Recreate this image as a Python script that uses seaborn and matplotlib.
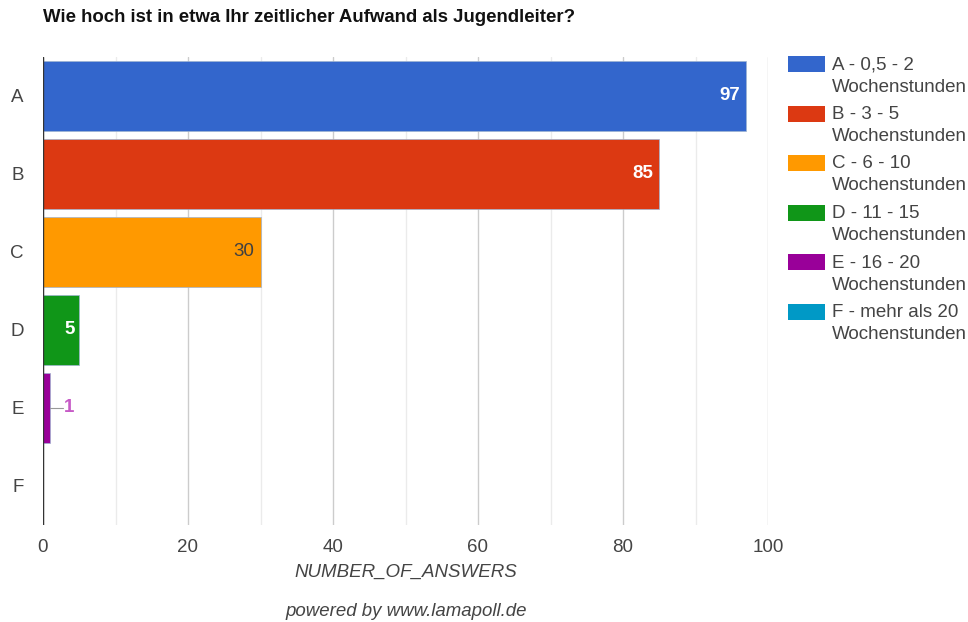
import matplotlib
matplotlib.use("Agg")
import matplotlib.pyplot as plt
from matplotlib.patches import Rectangle
from matplotlib.ticker import MultipleLocator
import seaborn as sns
import pandas as pd

# Survey data
categories = ["A", "B", "C", "D", "E", "F"]
answers = [97, 85, 30, 5, 1, 0]
legend_labels = [
    "A - 0,5 - 2\nWochenstunden",
    "B - 3 - 5\nWochenstunden",
    "C - 6 - 10\nWochenstunden",
    "D - 11 - 15\nWochenstunden",
    "E - 16 - 20\nWochenstunden",
    "F - mehr als 20\nWochenstunden",
]
colors = ["#3366cc", "#dc3912", "#ff9900", "#109618", "#990099", "#0099c6"]

sns.set_theme(style="white")
plt.rcParams["font.family"] = ["Liberation Sans", "DejaVu Sans"]

df = pd.DataFrame({"cat": categories, "n": answers})

W, H = 968, 622
fig = plt.figure(figsize=(W / 100, H / 100), dpi=100)
ax = fig.add_axes([43 / W, 1 - 525 / H, (768 - 43) / W, (525 - 57) / H])

sns.barplot(data=df, x="n", y="cat", hue="cat", palette=colors, legend=False,
            width=0.9, orient="h", ax=ax, saturation=1,
            edgecolor="#9fb4d0", linewidth=0.5, zorder=3)

ax.set_xlim(0, 100)
ax.set_ylim(5.5, -0.5)
ax.xaxis.set_major_locator(MultipleLocator(20))
ax.xaxis.set_minor_locator(MultipleLocator(10))
ax.grid(axis="x", which="major", color="#cccccc", linewidth=1, zorder=0)
ax.grid(axis="x", which="minor", color="#ebebeb", linewidth=1, zorder=0)
ax.axvline(0, color="#333333", linewidth=1.0, zorder=4)
for s in ax.spines.values():
    s.set_visible(False)
ax.tick_params(axis="both", which="both", length=0, labelsize=13.5,
               labelcolor="#444444")
ax.tick_params(axis="x", pad=10)
ax.tick_params(axis="y", pad=14)
ax.set_ylabel("")
ax.set_xlabel("NUMBER_OF_ANSWERS", fontstyle="italic", fontsize=13.5,
              color="#444444", labelpad=6)

# Value labels
for i, v in enumerate(answers):
    if v == 0:
        continue
    if v >= 20:
        color = "#404040" if v < 50 else "white"
        weight = "normal" if v < 50 else "bold"
        ax.text(v - 0.8, i, str(v), ha="right", va="center", fontsize=13.5,
                color=color, fontweight=weight, zorder=5)
    elif v >= 4:
        ax.text(v - 0.6, i, str(v), ha="right", va="center", fontsize=13.5,
                color="white", fontweight="bold", zorder=5)
    else:
        ax.plot([v, v + 1.7], [i, i], color="#999999", linewidth=0.8, zorder=5)
        ax.text(v + 1.9, i, str(v), ha="left", va="center", fontsize=13.5,
                color="#c65ac6", fontweight="semibold", zorder=5)

fig.text(43 / W, 1 - 18 / H, "Wie hoch ist in etwa Ihr zeitlicher Aufwand als Jugendleiter?",
         fontsize=13.4, fontweight="bold", color="#111111", va="center", ha="left")
fig.text(406 / W, 1 - 611 / H, "powered by www.lamapoll.de", fontstyle="italic",
         fontsize=13.4, color="#444444", ha="center", va="center")

# Legend: swatch aligned with the first text line of each entry
step = 49.5
for i, (lab, c) in enumerate(zip(legend_labels, colors)):
    top = 56 + step * i
    fig.add_artist(Rectangle((788 / W, 1 - (top + 16) / H), 37 / W, 16 / H,
                             transform=fig.transFigure, facecolor=c,
                             edgecolor="none"))
    first, second = lab.split("\n")
    fig.text(832 / W, 1 - (top + 9) / H, first, fontsize=13.5, color="#444444",
             ha="left", va="center")
    fig.text(832 / W, 1 - (top + 31) / H, second, fontsize=13.5, color="#444444",
             ha="left", va="center")

fig.savefig("out.png", dpi=100)
